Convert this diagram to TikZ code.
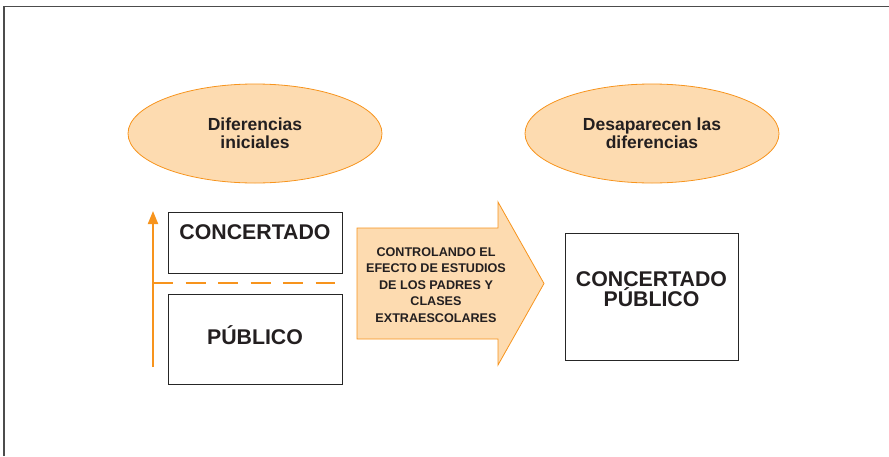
\documentclass[tikz,border=0pt]{standalone}
\usepackage{fontspec}
\setmainfont{Liberation Sans}
\usetikzlibrary{shapes.geometric,arrows.meta}
\definecolor{naranja}{HTML}{F7941D}
\definecolor{crema}{HTML}{FDDBB0}
\definecolor{tinta}{HTML}{231F20}
\tikzstyle{burbuja} = [ellipse, draw=naranja, fill=crema, line width=0.8pt, minimum width=254pt, minimum height=99pt, align=center, text=tinta, font=\bfseries\fontsize{17.5}{18}\selectfont]
\tikzstyle{caja} = [rectangle, draw=black!85, line width=0.9pt, anchor=north west, inner sep=0pt]
\tikzstyle{rotulo} = [align=center, inner sep=0pt, text=tinta, font=\bfseries\fontsize{21.3}{19.5}\selectfont]
\tikzstyle{flecha} = [draw=naranja, line width=2pt]

\begin{document}
\begin{tikzpicture}[x=1pt,y=-1pt]

        \useasboundingbox (0,0) rectangle (889,456);

        %% marco
        \draw[gray!60!black, line width=1.8pt] (4,456) -- (4,6.5) -- (889,6.5);

        %% ellipses
        \node (D1) [burbuja] at (255,133.5) {Diferencias\\iniciales};
        \node (D2) [burbuja] at (652,133.5) {Desaparecen las\\diferencias};

        %% boxes
        \node (C1) [caja, minimum width=174pt, minimum height=61pt] at (168,212) {};
        \node () [rotulo] at (255,232) {CONCERTADO};
        \node (P1) [caja, minimum width=174pt, minimum height=90pt] at (168,294) {};
        \node () [rotulo] at (255,335) {PÚBLICO};
        \node (CP) [caja, minimum width=173pt, minimum height=127pt] at (565,233) {};
        \node () [rotulo] at (651.5,289) {CONCERTADO\\PÚBLICO};

        %% orange arrow and dashed line
        \coordinate (A0) at (153,367);
        \coordinate (A1) at (153,211);
        \coordinate (L0) at (153,283);
        \coordinate (L1) at (335,283);
        \draw[flecha, -{Triangle[length=13pt,width=10pt]}] (A0) -- (A1);
        \draw[flecha, dash pattern=on 20pt off 12.5pt] (L0) -- (L1);

        %% big arrow
        \draw[naranja, fill=crema, line width=0.8pt] (357,228) -- (498,228) -- (498,202) -- (544,283.5)
            -- (498,365) -- (498,339) -- (357,339) -- cycle;
        \node (T) [align=center, inner sep=0pt, text=tinta, font=\bfseries\fontsize{12.6}{16.4}\selectfont] at (436,285)
            {CONTROLANDO EL\\EFECTO DE ESTUDIOS\\DE LOS PADRES Y\\CLASES\\EXTRAESCOLARES};

    \end{tikzpicture}
\end{document}
